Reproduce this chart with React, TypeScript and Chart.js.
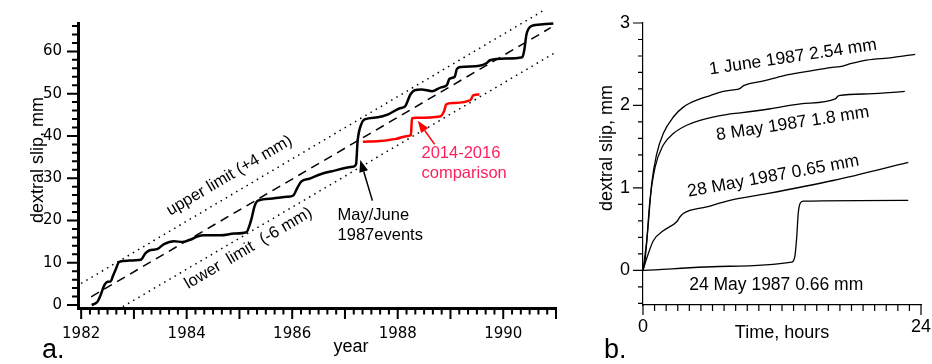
import React, { useEffect, useRef } from 'react';
import { Chart, registerables } from 'chart.js';

Chart.register(...registerables);

// ---------- Panel a: long-term creep record ----------
const slipYears = [1982.20, 1982.27, 1982.31, 1982.37, 1982.44, 1982.50, 1982.56, 1982.60, 1982.66, 1982.72, 1982.88, 1983.13, 1983.22, 1983.29, 1983.45, 1983.57, 1983.76, 1983.92, 1984.08, 1984.20, 1984.33, 1984.65, 1984.90, 1985.13, 1985.22, 1985.29, 1985.35, 1985.63, 1985.90, 1986.02, 1986.10, 1986.17, 1986.33, 1986.55, 1986.80, 1987.00, 1987.15, 1987.21, 1987.24, 1987.31, 1987.37, 1987.62, 1987.82, 1988.03, 1988.14, 1988.24, 1988.32, 1988.45, 1988.65, 1988.82, 1988.93, 1988.98, 1989.08, 1989.12, 1989.20, 1989.55, 1989.68, 1989.75, 1990.06, 1990.36, 1990.40, 1990.44, 1990.53, 1990.75, 1990.95];
const slipMm = [0.0, 0.4, 0.8, 2.4, 4.7, 5.5, 5.6, 6.8, 8.6, 10.2, 10.5, 10.7, 12.3, 12.9, 13.3, 14.4, 15.1, 14.9, 15.5, 16.2, 16.5, 16.5, 16.9, 17.2, 20.0, 23.5, 24.7, 25.2, 25.6, 25.9, 27.8, 29.2, 29.9, 31.0, 31.8, 32.4, 32.7, 33.3, 38.8, 42.8, 43.9, 44.4, 45.1, 46.5, 47.0, 49.8, 50.8, 51.0, 50.6, 51.5, 52.0, 53.5, 54.0, 55.8, 56.3, 56.6, 57.2, 57.9, 58.3, 58.6, 60.4, 64.0, 66.0, 66.4, 66.6];

const compYears = [1987.34, 1987.66, 1987.97, 1988.19, 1988.25, 1988.27, 1988.35, 1988.80, 1988.88, 1988.92, 1989.05, 1989.38, 1989.43, 1989.55];
const compMm = [38.6, 38.8, 39.3, 40.0, 40.2, 44.2, 44.3, 44.6, 45.9, 47.5, 47.8, 48.5, 49.6, 49.8];

const trendYears = [1982.19, 1990.90];
const trendMm = [1.95, 65.6];
const upperYears = [1982.0, 1990.78];
const upperMm = [5.1, 69.8];
const lowerYears = [1982.79, 1990.97];
const lowerMm = [-0.4, 59.6];

const yearTickLabels = [1982, 1984, 1986, 1988, 1990];
const slipTickLabels = [0, 10, 20, 30, 40, 50, 60];

// ---------- Panel b: individual creep events ----------
const june1Hours = [0, 0.17, 0.46, 0.75, 1.18, 1.75, 2.62, 3.48, 4.92, 5.8, 6.93, 7.8, 8.3, 8.7, 10.5, 12.1, 14.5, 16.2, 17.0, 18.0, 19.3, 21.5, 23.5];
const june1Mm = [0, 0.12, 0.57, 1.05, 1.41, 1.66, 1.86, 1.98, 2.08, 2.12, 2.17, 2.19, 2.20, 2.24, 2.30, 2.36, 2.42, 2.46, 2.47, 2.51, 2.55, 2.58, 2.62];

const may8Hours = [0, 0.32, 0.6, 1.04, 1.75, 2.62, 3.77, 4.92, 7.2, 8.4, 11.0, 13.6, 16.6, 16.9, 19.5, 22.6];
const may8Mm = [0, 0.36, 0.85, 1.25, 1.52, 1.66, 1.76, 1.82, 1.89, 1.91, 1.96, 2.02, 2.08, 2.12, 2.14, 2.17];

const may28Hours = [0, 0.17, 0.89, 1.75, 2.91, 3.2, 3.48, 5.5, 7.5, 10.7, 16.4, 22.9];
const may28Mm = [0, 0.08, 0.36, 0.48, 0.59, 0.65, 0.69, 0.77, 0.85, 0.93, 1.09, 1.31];

const may24Hours = [0, 7.5, 12.84, 13.1, 13.27, 13.4, 13.56, 13.84, 22.9];
const may24Mm = [0, 0.05, 0.10, 0.16, 0.40, 0.69, 0.81, 0.84, 0.85];

const hourTickLabels = [0, 24];
const eventTickLabels = [0, 1, 2, 3];

// ---------- helpers ----------
const SANS = '"Liberation Sans", Arial, Helvetica, sans-serif';
const DEJAVU = '"DejaVu Sans", Verdana, sans-serif';

const toPoints = (xs: number[], ys: number[]) => xs.map((x, i) => ({ x, y: ys[i] }));
const near = (a: number, b: number) => Math.abs(a - b) < 1e-6;

const range = (start: number, stop: number, step: number) => {
  const out: number[] = [];
  const n = Math.round((stop - start) / step);
  for (let i = 0; i <= n; i++) out.push(Number((start + i * step).toFixed(4)));
  return out;
};

type Note = { text: string; x: number; y: number; rot?: number; color?: string; size?: number; align?: CanvasTextAlign };
type Arrow = { x1: number; y1: number; x2: number; y2: number; color: string };
type Fixed = { text: string; px: number; py: number; rot?: number; size: number; align?: CanvasTextAlign; baseline?: CanvasTextBaseline };

type TickSpec = {
  xWidth: number; yWidth: number;
  xLen: (v: number) => number; yLen: (v: number) => number;
};

function tickPlugin(id: string, spec: TickSpec) {
  return {
    id,
    afterDraw(chart: any) {
      const { ctx, chartArea } = chart;
      const xs = chart.scales.x;
      const ys = chart.scales.y;
      ctx.save();
      ctx.strokeStyle = '#000';
      ctx.lineCap = 'butt';
      ctx.lineWidth = spec.xWidth;
      ctx.beginPath();
      xs.ticks.forEach((t: any) => {
        const px = xs.getPixelForValue(t.value);
        ctx.moveTo(px, chartArea.bottom);
        ctx.lineTo(px, chartArea.bottom + spec.xLen(t.value));
      });
      ctx.stroke();
      ctx.lineWidth = spec.yWidth;
      ctx.beginPath();
      ys.ticks.forEach((t: any) => {
        const py = ys.getPixelForValue(t.value);
        ctx.moveTo(chartArea.left, py);
        ctx.lineTo(chartArea.left - spec.yLen(t.value), py);
      });
      ctx.stroke();
      ctx.restore();
    },
  };
}

function notePlugin(id: string, notes: Note[], arrows: Arrow[], fixed: Fixed[]) {
  return {
    id,
    afterDatasetsDraw(chart: any) {
      const { ctx } = chart;
      const xs = chart.scales.x;
      const ys = chart.scales.y;
      ctx.save();
      arrows.forEach((a) => {
        const x1 = xs.getPixelForValue(a.x1);
        const y1 = ys.getPixelForValue(a.y1);
        const x2 = xs.getPixelForValue(a.x2);
        const y2 = ys.getPixelForValue(a.y2);
        const ang = Math.atan2(y2 - y1, x2 - x1);
        const head = 12;
        const hw = 4.5;
        const bx = x2 - head * Math.cos(ang);
        const by = y2 - head * Math.sin(ang);
        ctx.strokeStyle = a.color;
        ctx.fillStyle = a.color;
        ctx.lineWidth = 1.5;
        ctx.beginPath();
        ctx.moveTo(x1, y1);
        ctx.lineTo(bx, by);
        ctx.stroke();
        ctx.beginPath();
        ctx.moveTo(x2, y2);
        ctx.lineTo(bx + hw * Math.sin(ang), by - hw * Math.cos(ang));
        ctx.lineTo(bx - hw * Math.sin(ang), by + hw * Math.cos(ang));
        ctx.closePath();
        ctx.fill();
      });
      notes.forEach((n) => {
        ctx.save();
        ctx.translate(xs.getPixelForValue(n.x), ys.getPixelForValue(n.y));
        ctx.rotate((-(n.rot || 0) * Math.PI) / 180);
        ctx.font = `${n.size || 16}px ${SANS}`;
        ctx.fillStyle = n.color || '#000';
        ctx.textAlign = n.align || 'center';
        ctx.textBaseline = 'middle';
        ctx.fillText(n.text, 0, 0);
        ctx.restore();
      });
      fixed.forEach((f) => {
        ctx.save();
        ctx.translate(f.px, f.py);
        ctx.rotate((-(f.rot || 0) * Math.PI) / 180);
        ctx.font = `${f.size}px ${SANS}`;
        ctx.fillStyle = '#000';
        ctx.textAlign = f.align || 'center';
        ctx.textBaseline = f.baseline || 'middle';
        ctx.fillText(f.text, 0, 0);
        ctx.restore();
      });
      ctx.restore();
    },
  };
}

// ---------- tick value lists ----------
const yearTickValues = range(1982, 1991, 1 / 6);
const slipTickValues = range(0, 66, 2);
const hourTickValues = range(0, 24, 1);
const eventTickValues = range(-0.4, 3, 0.2);

export default function App() {
  const aRef = useRef<HTMLCanvasElement | null>(null);
  const bRef = useRef<HTMLCanvasElement | null>(null);

  useEffect(() => {
    const notesA: Note[] = [
      { text: 'upper limit (+4 mm)', x: 1984.81, y: 30.6, rot: 30.5, size: 16.5 },
      { text: 'lower  limit  (-6 mm)', x: 1985.17, y: 13.4, rot: 30.5, size: 16.5 },
      { text: 'May/June', x: 1986.86, y: 21.2, align: 'left', size: 16.5 },
      { text: '1987events', x: 1986.86, y: 16.5, align: 'left', size: 16.5 },
      { text: '2014-2016', x: 1988.45, y: 35.8, align: 'left', size: 16.5, color: '#ff1f5b' },
      { text: 'comparison', x: 1988.45, y: 31.1, align: 'left', size: 16.5, color: '#ff1f5b' },
    ];
    const arrowsA: Arrow[] = [
      { x1: 1987.52, y1: 24.7, x2: 1987.29, y2: 34.3, color: '#000' },
      { x1: 1988.70, y1: 38.0, x2: 1988.38, y2: 43.6, color: '#ff0000' },
    ];
    const fixedA: Fixed[] = [
      { text: 'dextral slip, mm', px: 38, py: 160, rot: 90, size: 18 },
      { text: 'year', px: 351, py: 347, size: 18 },
      { text: 'a.', px: 42, py: 358, size: 27, align: 'left', baseline: 'alphabetic' },
    ];

    const chartA = new Chart(aRef.current as HTMLCanvasElement, {
      type: 'line',
      data: {
        datasets: [
          { data: toPoints(upperYears, upperMm), borderColor: '#000', borderWidth: 1.5, borderDash: [1.5, 4.5], pointRadius: 0, clip: false as any },
          { data: toPoints(lowerYears, lowerMm), borderColor: '#000', borderWidth: 1.5, borderDash: [1.5, 4.5], pointRadius: 0, clip: false as any },
          { data: toPoints(trendYears, trendMm), borderColor: '#000', borderWidth: 1.5, borderDash: [9, 6], pointRadius: 0, clip: false as any },
          { data: toPoints(slipYears, slipMm), borderColor: '#000', borderWidth: 2.5, pointRadius: 0, cubicInterpolationMode: 'monotone', clip: false as any },
          { data: toPoints(compYears, compMm), borderColor: '#ff0000', borderWidth: 2.5, pointRadius: 0, cubicInterpolationMode: 'monotone', clip: false as any },
        ],
      },
      options: {
        responsive: false,
        animation: false,
        events: [],
        layout: { padding: { left: 0, top: 22, right: 34, bottom: 0 } },
        plugins: { legend: { display: false }, tooltip: { enabled: false } },
        scales: {
          x: {
            type: 'linear',
            min: 1981.94,
            max: 1991,
            afterBuildTicks: (s: any) => { s.ticks = yearTickValues.map((v) => ({ value: v })); },
            afterFit: (s: any) => { s.height = 56; },
            grid: { display: true, drawOnChartArea: false, drawTicks: false },
            border: { display: true, color: '#000', width: 3 },
            ticks: {
              autoSkip: false, maxRotation: 0, minRotation: 0, padding: 0, color: '#000',
              font: { family: DEJAVU, size: 15, lineHeight: 3.5 },
              callback: (v: any) => {
                const r = Math.round(Number(v));
                return near(Number(v), r) && yearTickLabels.includes(r) ? String(r) : '';
              },
            },
          },
          y: {
            type: 'linear',
            min: -0.706,
            max: 66.6,
            afterBuildTicks: (s: any) => { s.ticks = slipTickValues.map((v) => ({ value: v })); },
            afterFit: (s: any) => { s.width = 78; },
            grid: { display: true, drawOnChartArea: false, drawTicks: false },
            border: { display: true, color: '#000', width: 3 },
            ticks: {
              autoSkip: false, padding: 16, color: '#000',
              font: { family: DEJAVU, size: 15, lineHeight: 1 },
              callback: (v: any) => (slipTickLabels.includes(Number(v)) ? String(v) : ''),
            },
          },
        },
      },
      plugins: [
        tickPlugin('ticksA', {
          xWidth: 2, yWidth: 2,
          xLen: (v) => (near(v, Math.round(v)) ? 11 : 6.5),
          yLen: (v) => (slipTickLabels.includes(v) ? 11 : 6),
        }),
        notePlugin('notesA', notesA, arrowsA, fixedA),
      ],
    } as any);

    const notesB: Note[] = [
      { text: '1 June 1987 2.54 mm', x: 12.95, y: 2.585, rot: 8.5, size: 17.5 },
      { text: '8 May 1987 1.8 mm', x: 12.93, y: 1.778, rot: 8.7, size: 17.5 },
      { text: '28 May 1987 0.65 mm', x: 11.25, y: 1.14, rot: 10.4, size: 17.5 },
      { text: '24 May 1987 0.66 mm', x: 11.5, y: -0.176, rot: 0, size: 17.5 },
    ];
    const fixedB: Fixed[] = [
      { text: 'dextral slip, mm', px: 17, py: 148, rot: 90, size: 18 },
      { text: 'Time, hours', px: 192, py: 333, size: 18 },
      { text: 'b.', px: 14, py: 358, size: 27, align: 'left', baseline: 'alphabetic' },
    ];

    const curve = (xs: number[], ys: number[]) => ({
      data: toPoints(xs, ys), borderColor: '#000', borderWidth: 1.3, pointRadius: 0, cubicInterpolationMode: 'monotone',
    });

    const chartB = new Chart(bRef.current as HTMLCanvasElement, {
      type: 'line',
      data: {
        datasets: [
          curve(june1Hours, june1Mm),
          curve(may8Hours, may8Mm),
          curve(may28Hours, may28Mm),
          curve(may24Hours, may24Mm),
        ],
      },
      options: {
        responsive: false,
        animation: false,
        events: [],
        layout: { padding: { left: 0, top: 23, right: 11, bottom: 0 } },
        plugins: { legend: { display: false }, tooltip: { enabled: false } },
        scales: {
          x: {
            type: 'linear',
            min: 0,
            max: 24,
            afterBuildTicks: (s: any) => { s.ticks = hourTickValues.map((v) => ({ value: v })); },
            afterFit: (s: any) => { s.height = 59; },
            grid: { display: true, drawOnChartArea: false, drawTicks: false },
            border: { display: true, color: '#000', width: 1.2 },
            ticks: {
              autoSkip: false, maxRotation: 0, minRotation: 0, padding: 0, color: '#000',
              font: { family: SANS, size: 18, lineHeight: 2.44 },
              callback: (v: any) => (hourTickLabels.includes(Number(v)) ? String(v) : ''),
            },
          },
          y: {
            type: 'linear',
            min: -0.42,
            max: 3,
            afterBuildTicks: (s: any) => { s.ticks = eventTickValues.map((v) => ({ value: v })); },
            afterFit: (s: any) => { s.width = 53; },
            grid: { display: true, drawOnChartArea: false, drawTicks: false },
            border: { display: true, color: '#000', width: 1.2 },
            ticks: {
              autoSkip: false, padding: 13, color: '#000',
              font: { family: SANS, size: 18, lineHeight: 1 },
              callback: (v: any) => (eventTickLabels.includes(Number(v)) ? String(v) : ''),
            },
          },
        },
      },
      plugins: [
        tickPlugin('ticksB', {
          xWidth: 1.2, yWidth: 1.2,
          xLen: (v) => (hourTickLabels.includes(v) ? 10 : 6),
          yLen: (v) => (eventTickLabels.includes(v) ? 10 : 5),
        }),
        notePlugin('notesB', notesB, [], fixedB),
      ],
    } as any);

    return () => {
      chartA.destroy();
      chartB.destroy();
    };
  }, []);

  return (
    <div style={{ position: 'fixed', left: 0, top: 0, width: 932, height: 364, background: '#fff', overflow: 'hidden' }}>
      <div style={{ position: 'absolute', left: 0, top: 0, width: 590, height: 364 }}>
        <canvas ref={aRef} width={590} height={364} style={{ display: 'block' }} />
      </div>
      <div style={{ position: 'absolute', left: 590, top: 0, width: 342, height: 364 }}>
        <canvas ref={bRef} width={342} height={364} style={{ display: 'block' }} />
      </div>
    </div>
  );
}
